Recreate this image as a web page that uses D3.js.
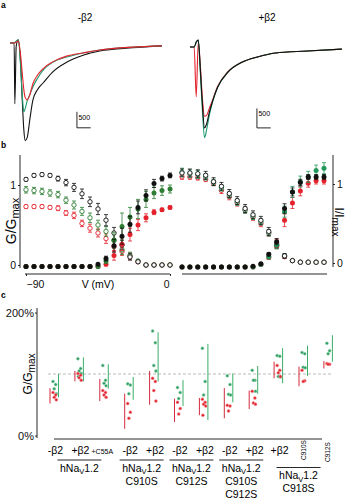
<!DOCTYPE html>
<html>
<head>
<meta charset="utf-8">
<script src="https://cdn.jsdelivr.net/npm/d3@7"></script>
<style>
body { margin: 0; background: #fff; }
svg { display: block; font-family: "Liberation Sans", Arial, sans-serif; }
</style>
</head>
<body>
<div id="chart"></div>
<script>
// data, panel a: current traces (time in ms, current in pA)
const timeMinus = [0, 0.3, 0.35, 0.45, 0.6, 0.75, 0.9, 1.0, 1.1, 1.25, 1.45, 1.65, 2.0, 2.4, 3.1, 4.1, 5.3, 6.5, 8.9, 11]
const minusBlack = [0, 0, -1900, -100, 100, -500, -1900, -2700, -3050, -2950, -2350, -1800, -1450, -1250, -900, -600, -380, -250, -150, -90]
const minusGreen = [0, 0, 20, 60, 100, -600, -1700, -2150, -2050, -1800, -1600, -1380, -1100, -850, -600, -440, -310, -220, -130, -90]
const minusRed = [0, 0, 0, 30, 60, -300, -1000, -1450, -1700, -1780, -1600, -1280, -1000, -800, -590, -410, -310, -220, -130, -90]
const timePlus = [0, 0.3, 0.45, 0.6, 0.75, 0.9, 1.05, 1.2, 1.4, 1.6, 2.0, 2.75, 3.8, 4.9, 6.2, 8.5, 11]
const plusBlack = [-25, -25, 100, 150, -600, -1500, -2100, -2000, -1700, -1460, -1060, -670, -410, -280, -180, -130, -80]
const plusGreen = [-25, -25, 100, 150, -700, -1650, -2350, -2150, -1780, -1480, -1060, -670, -410, -280, -180, -130, -80]
const plusRed = [-25, -25, -1300, 100, -500, -1350, -1800, -1780, -1600, -1420, -1040, -660, -410, -280, -180, -130, -80]

// data, panel b: activation (filled) and inactivation (open), normalised
const volts = [-90, -85, -80, -75, -70, -65, -60, -55, -50, -45, -40, -35, -30, -25, -20, -15, -10, -5, 0]
const actBlackL = [-0.02, -0.02, -0.02, -0.02, -0.02, -0.02, -0.02, -0.02, -0.02, 0.01, 0.08, 0.24, 0.36, 0.51, 0.72, 0.87, 1.02, 1.08, 1.12]
const actGreenL = [-0.02, -0.02, -0.02, -0.02, -0.02, -0.02, -0.02, -0.02, -0.02, -0.02, 0.05, 0.31, 0.48, 0.6, 0.7, 0.82, 0.9, 0.93, 0.95]
const actRedL = [-0.02, -0.02, -0.02, -0.02, -0.02, -0.02, -0.02, -0.02, -0.02, -0.02, 0.01, 0.12, 0.26, 0.38, 0.5, 0.59, 0.66, 0.69, 0.72]
const errActBlackL = [0, 0, 0, 0, 0, 0, 0, 0, 0, 0.01, 0.03, 0.08, 0.1, 0.1, 0.08, 0.07, 0.05, 0.03, 0.03]
const errActGreenL = [0, 0, 0, 0, 0, 0, 0, 0, 0, 0.01, 0.03, 0.1, 0.17, 0.12, 0.12, 0.1, 0.07, 0.06, 0.05]
const errActRedL = [0, 0, 0, 0, 0, 0, 0, 0, 0, 0, 0.02, 0.06, 0.08, 0.08, 0.07, 0.05, 0.03, 0.02, 0.02]
const inactBlackL = [1.07, 1.12, 1.13, 1.12, 1.08, 1.03, 0.97, 0.89, 0.79, 0.7, 0.56, 0.4, 0.25, 0.1, 0.04, 0, 0, 0, 0]
const inactGreenL = [0.94, 0.93, 0.92, 0.9, 0.88, 0.81, 0.75, 0.67, 0.59, 0.5, 0.42, 0.31, 0.19, 0.12, 0.05, 0, 0, 0, 0]
const inactRedL = [0.73, 0.73, 0.73, 0.72, 0.71, 0.65, 0.62, 0.52, 0.46, 0.4, 0.33, 0.23, 0.17, 0.11, 0.04, 0, 0, 0, 0]
const errInactBlackL = [0.02, 0.02, 0.02, 0.02, 0.03, 0.04, 0.05, 0.06, 0.06, 0.07, 0.07, 0.07, 0.06, 0.04, 0.02, 0.01, 0.01, 0.01, 0.01]
const errInactGreenL = [0.04, 0.04, 0.04, 0.04, 0.04, 0.04, 0.05, 0.05, 0.06, 0.06, 0.06, 0.07, 0.06, 0.04, 0.02, 0, 0, 0, 0]
const errInactRedL = [0.02, 0.02, 0.02, 0.02, 0.03, 0.03, 0.04, 0.04, 0.05, 0.05, 0.06, 0.06, 0.05, 0.04, 0.02, 0, 0, 0, 0]

const actBlackR = [-0.05, -0.05, -0.05, -0.05, -0.05, -0.05, -0.05, -0.05, -0.05, -0.04, -0.01, 0.11, 0.27, 0.69, 0.9, 1.02, 1.09, 1.09, 1.09]
const actGreenR = [-0.05, -0.05, -0.05, -0.05, -0.05, -0.05, -0.05, -0.05, -0.05, -0.05, -0.02, 0.08, 0.23, 0.65, 0.9, 1.03, 1.09, 1.17, 1.2]
const actRedR = [-0.05, -0.05, -0.05, -0.05, -0.05, -0.05, -0.05, -0.05, -0.05, -0.05, -0.02, 0.07, 0.25, 0.54, 0.76, 0.91, 1.01, 1.04, 1.04]
const errActBlackR = [0, 0, 0, 0, 0, 0, 0, 0, 0, 0, 0, 0.02, 0.04, 0.06, 0.05, 0.04, 0.03, 0.03, 0.03]
const errActGreenR = [0, 0, 0, 0, 0, 0, 0, 0, 0, 0, 0, 0.03, 0.05, 0.07, 0.07, 0.07, 0.07, 0.07, 0.07]
const errActRedR = [0, 0, 0, 0, 0, 0, 0, 0, 0, 0, 0, 0.02, 0.05, 0.08, 0.07, 0.06, 0.05, 0.04, 0.04]
const inactBlackR = [1.14, 1.14, 1.13, 1.11, 1.03, 0.97, 0.88, 0.79, 0.69, 0.61, 0.54, 0.4, 0.23, 0.09, 0.03, 0.01, 0.01, 0.01, 0.01]
const inactGreenR = [1.15, 1.13, 1.12, 1.09, 1.02, 0.95, 0.86, 0.77, 0.67, 0.59, 0.52, 0.38, 0.22, 0.09, 0.03, 0.01, 0.01, 0.01, 0.01]
const inactRedR = [1.09, 1.09, 1.08, 1.06, 1.01, 0.92, 0.84, 0.76, 0.67, 0.58, 0.5, 0.38, 0.21, 0.08, 0.03, 0.01, 0.01, 0.01, 0.01]
const errInactBlackR = [0.05, 0.05, 0.05, 0.05, 0.05, 0.05, 0.05, 0.05, 0.05, 0.05, 0.05, 0.05, 0.04, 0.03, 0.01, 0, 0, 0, 0]
const errInactGreenR = [0.05, 0.05, 0.05, 0.04, 0.04, 0.04, 0.04, 0.04, 0.04, 0.04, 0.04, 0.04, 0.03, 0.02, 0.01, 0, 0, 0, 0]
const errInactRedR = [0.03, 0.03, 0.03, 0.03, 0.03, 0.04, 0.04, 0.04, 0.04, 0.04, 0.04, 0.04, 0.03, 0.02, 0.01, 0, 0, 0, 0]

// data, panel c: G/Gmax in % per condition
const condLabels = ["-β2", "+β2", "+C55A", "-β2", "+β2", "-β2", "+β2", "-β2", "+β2", "+β2", "C910S", "C912S"]
const greenDots = [[88, 83, 76, 68], [125, 109, 105, 101, 96], [114, 90, 85, 81], [84, 82, 68], [170, 151, 114, 105], [78, 70, 60],
  [142, 88, 66], [97, 83, 67, 66], [106, 90, 90, 72], [130, 129, 96, 95], [135, 133, 111, 110], [150, 138, 133]]
const redDots = [[70, 66, 62, 58], [101, 98, 94, 90], [73, 70, 66, 62], [52, 38, 28], [93, 88, 73, 56], [54, 44, 35],
  [59, 54, 51, 48, 33], [49, 48, 40], [72, 61, 53, 51], [114, 106, 102, 96], [106, 89, 88], [117, 116, 116]]
const greenRange = [[62, 100], [88, 127], [76, 116], [58, 95], [88, 168], [48, 90], [25, 149], [54, 101], [68, 113], [85, 142], [97, 146], [120, 163]]
const redRange = [[52, 77], [88, 105], [56, 92], [11, 68], [50, 105], [22, 60], [33, 61], [28, 77], [43, 73], [93, 120], [80, 112], [109, 121]]
const groupFirst = [0, 3, 5, 7, 9]
const groupLast = [2, 4, 6, 8, 11]
const groupMutations = [[], ["C910S"], ["C912S"], ["C910S", "C912S"], ["C918S"]]

// constantes:
const width = 350
const height = 500
const black = "#111"
const red = "#e4222c"
const greenA = "#1e9a6e"
const greenBL = "#2d7d32"
const greenBR = "#23985c"
const greenDot = "#2f9d63"
const greenLine = "#3aae68"
const redLine = "#d42a3d"
const jitter = [-1.5, 1.2, -0.3, 1.8, -1]
const groupShift = [0, 0, 0, 0, -5]

let svg = d3.select('div#chart').append('svg').attr('width', width).attr('height', height)

// ---------- panel a ----------
let xMinus = d3.scaleLinear().domain([0, 11]).range([10, 161.8])
let yMinus = d3.scaleLinear().domain([0, -500]).range([43, 59])
let xPlus = d3.scaleLinear().domain([0, 11]).range([190, 341.8])
let yPlus = d3.scaleLinear().domain([0, -500]).range([46, 65.5])

let aGroup = svg.append('g').attr('id', 'panelA')
panelLetter('a', 1, 8)
aGroup.append('text').attr('x', 85).attr('y', 21).attr('text-anchor', 'middle').style('font-size', '10px').text('-β2')
aGroup.append('text').attr('x', 267).attr('y', 21).attr('text-anchor', 'middle').style('font-size', '10px').text('+β2')

drawTrace(aGroup, xMinus, yMinus, timeMinus, minusBlack, black)
drawTrace(aGroup, xMinus, yMinus, timeMinus, minusGreen, greenA)
drawTrace(aGroup, xMinus, yMinus, timeMinus, minusRed, red)
drawTrace(aGroup, xPlus, yPlus, timePlus, plusRed, red)
drawTrace(aGroup, xPlus, yPlus, timePlus, plusGreen, greenA)
drawTrace(aGroup, xPlus, yPlus, timePlus, plusBlack, black)
drawScaleBar(aGroup, xMinus, yMinus, 4.85, -2650)
drawScaleBar(aGroup, xPlus, yPlus, 4.85, -2100)

// ---------- panel b ----------
let xL = d3.scaleLinear().domain([-90, 0]).range([26, 170])
let yL = d3.scaleLinear().domain([0, 1]).range([265, 185])
let xR = d3.scaleLinear().domain([-90, 0]).range([182, 324])
let yR = d3.scaleLinear().domain([0, 1]).range([263, 184])

let bGroup = svg.append('g').attr('id', 'panelB')
panelLetter('b', 1, 148)

// ejes:
bGroup.append('line').attr('x1', 20).attr('x2', 20).attr('y1', 155).attr('y2', 268).attr('stroke', black).attr('stroke-width', 0.9)
bGroup.append('line').attr('x1', 333).attr('x2', 333).attr('y1', 155).attr('y2', 267).attr('stroke', black).attr('stroke-width', 0.9)
bGroup.append('line').attr('x1', 25).attr('x2', 170).attr('y1', 274).attr('y2', 274).attr('stroke', black).attr('stroke-width', 0.9)
bGroup.append('line').attr('x1', 182).attr('x2', 327).attr('y1', 274).attr('y2', 274).attr('stroke', black).attr('stroke-width', 0.9)

let yAxisL = bGroup.append('g').attr('transform', 'translate(20,0)')
  .call(d3.axisLeft(yL).tickValues([0, 1]).tickSize(2).tickPadding(2).tickFormat(d3.format('d')))
let yAxisR = bGroup.append('g').attr('transform', 'translate(333,0)')
  .call(d3.axisRight(yR).tickValues([0, 1]).tickSize(2).tickPadding(2).tickFormat(d3.format('d')))
let xAxisL = bGroup.append('g').attr('transform', 'translate(0,274)')
  .call(d3.axisBottom(xL).tickValues([-90, 0]).tickSize(2).tickPadding(5).tickFormat(d3.format('d')))
xAxisL.selectAll('text').attr('text-anchor', d => d < 0 ? 'start' : 'end').attr('dx', d => d < 0 ? 0 : -1)
styleAxis(yAxisL)
styleAxis(yAxisR)
styleAxis(xAxisL)

bGroup.append('text').attr('x', 98).attr('y', 288).attr('text-anchor', 'middle').style('font-size', '10.5px').text('V (mV)')
bGroup.append('text').attr('transform', 'translate(16,221) rotate(-90)').attr('text-anchor', 'middle').style('font-size', '14px')
  .call(t => { t.append('tspan').text('G/G'); t.append('tspan').attr('dy', 3).style('font-size', '11px').text('max') })
bGroup.append('text').attr('transform', 'translate(335,222) rotate(90)').attr('text-anchor', 'middle').style('font-size', '12px')
  .call(t => { t.append('tspan').text('I/I'); t.append('tspan').attr('dy', 3).style('font-size', '10px').text('max') })

// series:
drawSeries(bGroup, xL, yL, inactRedL, errInactRedL, red, false)
drawSeries(bGroup, xL, yL, inactGreenL, errInactGreenL, greenBL, false)
drawSeries(bGroup, xL, yL, inactBlackL, errInactBlackL, black, false)
drawSeries(bGroup, xL, yL, actRedL, errActRedL, red, true)
drawSeries(bGroup, xL, yL, actGreenL, errActGreenL, greenBL, true)
drawSeries(bGroup, xL, yL, actBlackL, errActBlackL, black, true)

drawSeries(bGroup, xR, yR, inactRedR, errInactRedR, red, false)
drawSeries(bGroup, xR, yR, inactGreenR, errInactGreenR, greenBR, false)
drawSeries(bGroup, xR, yR, inactBlackR, errInactBlackR, black, false)
drawSeries(bGroup, xR, yR, actRedR, errActRedR, red, true)
drawSeries(bGroup, xR, yR, actGreenR, errActGreenR, greenBR, true)
drawSeries(bGroup, xR, yR, actBlackR, errActBlackR, black, true)

// ---------- panel c ----------
let xC = d3.scalePoint().domain(d3.range(condLabels.length)).range([54.5, 328.4])
let yC = d3.scaleLinear().domain([0, 200]).range([435.5, 312.5])

let cGroup = svg.append('g').attr('id', 'panelC')
panelLetter('c', 1, 298)

cGroup.append('line').attr('x1', 48).attr('x2', 332).attr('y1', yC(100)).attr('y2', yC(100))
  .attr('stroke', '#aaa').attr('stroke-width', 0.8).attr('stroke-dasharray', '3,2')
cGroup.append('line').attr('x1', 37).attr('x2', 37).attr('y1', 308).attr('y2', 438).attr('stroke', black).attr('stroke-width', 0.9)
cGroup.append('line').attr('x1', 54).attr('x2', 322).attr('y1', 439).attr('y2', 439).attr('stroke', black).attr('stroke-width', 0.9)
let yAxisC = cGroup.append('g').attr('transform', 'translate(37,0)')
  .call(d3.axisLeft(yC).tickValues([0, 200]).tickSize(2).tickPadding(1).tickFormat(d => d + '%'))
styleAxis(yAxisC, '11px')
cGroup.append('text').attr('transform', 'translate(32,374) rotate(-90)').attr('text-anchor', 'middle').style('font-size', '12px')
  .call(t => { t.append('tspan').text('G/G'); t.append('tspan').attr('dy', 3).style('font-size', '10px').text('max') })

condLabels.forEach(function(lab, i) {
  drawRange(cGroup, xC(i) - 4.5, redRange[i], redLine)
  drawRange(cGroup, xC(i) + 4, greenRange[i], greenLine)
  drawDots(cGroup, xC(i), greenDots[i], greenDot, '#9fd8b4')
  drawDots(cGroup, xC(i), redDots[i], red, '#f4a0a6')
  if (lab.startsWith('C9')) {
    cGroup.append('text').attr('transform', `translate(${xC(i) + 2},${450 + (i - 10) * 2}) rotate(-90)`)
      .attr('text-anchor', 'middle').style('font-size', '6.5px').text(lab)
  } else if (lab === '+C55A') {
    cGroup.append('text').attr('x', xC(i) - 2).attr('y', 454).attr('text-anchor', 'middle').style('font-size', '7px').text(lab)
  } else {
    cGroup.append('text').attr('x', xC(i) + 1).attr('y', 454).attr('text-anchor', 'middle').style('font-size', '10.5px').text(lab)
  }
})

groupFirst.forEach(function(f, g) {
  let cx = (xC(f) + xC(groupLast[g])) / 2 + groupShift[g]
  let ly = g === 4 ? 467.5 : 460
  cGroup.append('line').attr('x1', cx - 22).attr('x2', cx + 22).attr('y1', ly).attr('y2', ly).attr('stroke', black).attr('stroke-width', 0.9)
  cGroup.append('text').attr('x', cx).attr('y', ly + 11.5).attr('text-anchor', 'middle').style('font-size', '10.5px')
    .call(t => {
      t.append('tspan').text('hNa')
      t.append('tspan').attr('dy', 2.5).style('font-size', '7.5px').text('V')
      t.append('tspan').attr('dy', -2.5).text('1.2')
    })
  groupMutations[g].forEach(function(m, k) {
    cGroup.append('text').attr('x', cx).attr('y', ly + 11.5 + 13 * (k + 1)).attr('text-anchor', 'middle').style('font-size', '10.5px').text(m)
  })
})

// funciones:
function panelLetter(l, x, y) {
  svg.append('text').attr('x', x).attr('y', y).style('font-size', '8.5px').style('font-weight', 'bold').text(l)
}

function styleAxis(ax, size) {
  ax.select('.domain').remove()
  ax.selectAll('line').attr('stroke', black).attr('stroke-width', 0.9)
  ax.selectAll('text').attr('fill', black).style('font-size', size || '10.5px')
    .style('font-family', '"Liberation Sans", Arial, sans-serif')
}

function drawTrace(g, x, y, times, values, color) {
  let line = d3.line().x((d, i) => x(times[i])).y(d => y(d)).curve(d3.curveMonotoneX)
  g.append('path').datum(values).attr('d', line)
    .attr('fill', 'none').attr('stroke', color).attr('stroke-width', 1.1)
}

function drawScaleBar(g, x, y, t0, i0) {
  g.append('path')
    .attr('d', `M${x(t0)},${y(i0 + 500)}V${y(i0)}H${x(t0 + 1)}`)
    .attr('fill', 'none').attr('stroke', black).attr('stroke-width', 0.9)
  g.append('text').attr('x', x(t0) + 1.5).attr('y', y(i0 + 500) + 8).style('font-size', '7px').text('500')
}

function drawSeries(g, x, y, values, errs, color, filled) {
  let s = g.append('g')
  values.forEach(function(v, i) {
    let e = errs[i]
    if (e > 0.005) {
      let cx = x(volts[i])
      s.append('path')
        .attr('d', `M${cx},${y(v - e)}V${y(v + e)}M${cx - 2},${y(v + e)}H${cx + 2}M${cx - 2},${y(v - e)}H${cx + 2}`)
        .attr('stroke', color).attr('stroke-width', 0.8).attr('fill', 'none')
    }
  })
  s.selectAll('circle').data(values).enter().append('circle')
    .attr('cx', (d, i) => x(volts[i]))
    .attr('cy', d => y(d))
    .attr('r', filled ? 2.5 : 2.2)
    .attr('fill', filled ? color : '#fff')
    .attr('stroke', filled ? 'none' : color)
    .attr('stroke-width', 0.9)
}

function drawRange(g, x, range, color) {
  g.append('line').attr('x1', x).attr('x2', x).attr('y1', yC(range[0])).attr('y2', yC(range[1]))
    .attr('stroke', color).attr('stroke-width', 1)
}

function drawDots(g, cx, values, color, rim) {
  g.selectAll(null).data(values).enter().append('circle')
    .attr('cx', (d, i) => cx + jitter[i % jitter.length])
    .attr('cy', d => yC(d))
    .attr('r', 1.5)
    .attr('fill', color)
    .attr('stroke', rim)
    .attr('stroke-width', 0.5)
}
</script>
</body>
</html>
